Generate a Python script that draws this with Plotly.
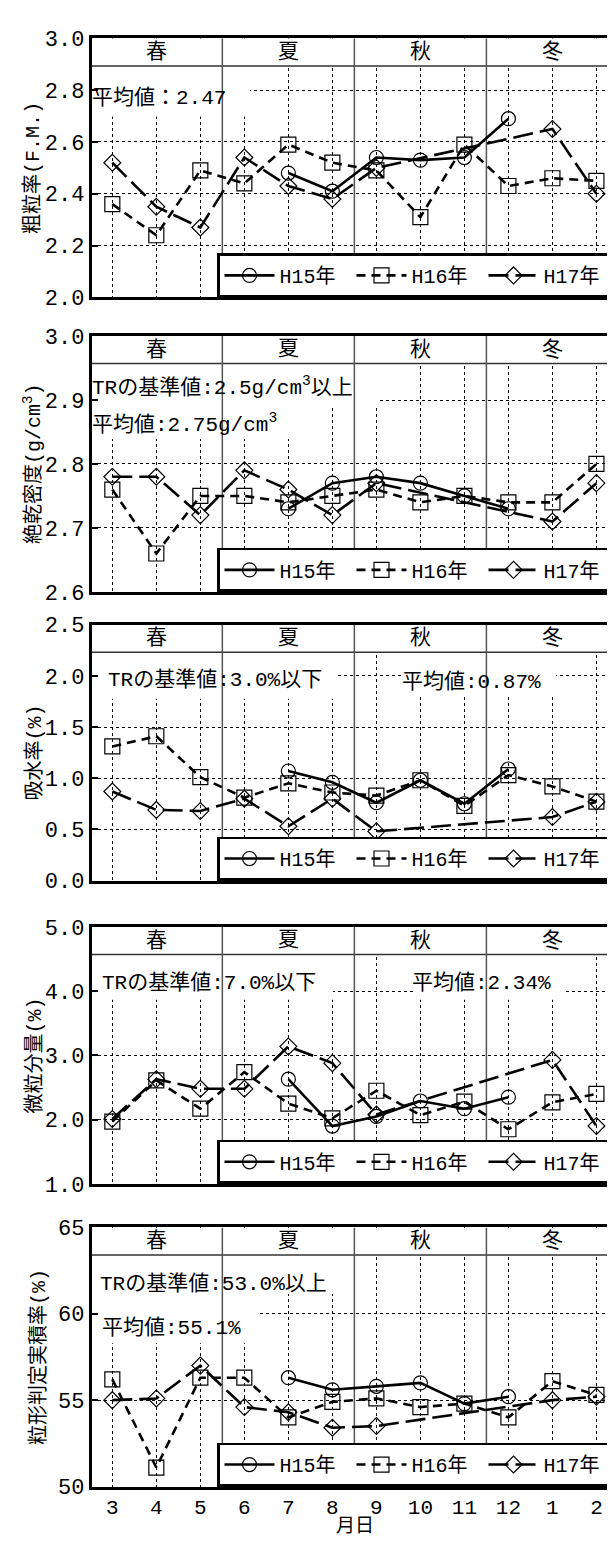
import plotly.graph_objects as go

# ---------------- data ----------------
months = ["3", "4", "5", "6", "7", "8", "9", "10", "11", "12", "1", "2"]
seasons = ["春", "夏", "秋", "冬"]
season_idx = [1, 4, 7, 10]          # category index of each season label
season_breaks = [2.5, 5.5, 8.5]     # category boundaries between seasons
series_names = ["H15年", "H16年", "H17年"]

# 粗粒率 (F.M.)
fm_h15 = [None, None, None, None, 2.48, 2.41, 2.54, 2.53, 2.54, 2.69, None, None]
fm_h16 = [2.36, 2.24, 2.49, 2.44, 2.59, 2.52, 2.49, 2.31, 2.59, 2.43, 2.46, 2.45]
fm_h17 = [2.52, 2.35, 2.27, 2.54, 2.43, 2.38, 2.50, None, None, None, 2.65, 2.40]

# 絶乾密度 (g/cm3)
dens_h15 = [None, None, None, None, 2.73, 2.77, 2.78, 2.77, 2.75, 2.73, None, None]
dens_h16 = [2.76, 2.66, 2.75, 2.75, 2.74, 2.75, 2.76, 2.74, 2.75, 2.74, 2.74, 2.80]
dens_h17 = [2.78, 2.78, 2.72, 2.79, 2.76, 2.72, 2.77, None, None, None, 2.71, 2.77]

# 吸水率 (%)
abs_h15 = [None, None, None, None, 1.07, 0.96, 0.76, 0.98, 0.75, 1.09, None, None]
abs_h16 = [1.31, 1.41, 1.01, 0.81, 0.95, 0.86, 0.83, 0.98, 0.73, 1.03, 0.92, 0.77]
abs_h17 = [0.87, 0.69, 0.68, 0.80, 0.53, 0.80, 0.48, None, None, None, 0.62, 0.77]

# 微粒分量 (%)
fine_h15 = [None, None, None, None, 2.63, 1.90, 2.05, 2.29, 2.17, 2.35, None, None]
fine_h16 = [1.97, 2.61, 2.17, 2.74, 2.25, 2.02, 2.45, 2.07, 2.28, 1.85, 2.27, 2.40]
fine_h17 = [2.01, 2.63, 2.48, 2.48, 3.14, 2.88, 2.08, None, None, None, 2.93, 1.90]

# 粒形判定実積率 (%)
shp_h15 = [None, None, None, None, 56.3, 55.6, 55.8, 56.0, 54.8, 55.2, None, None]
shp_h16 = [56.2, 51.1, 56.3, 56.3, 54.0, 54.9, 55.1, 54.6, 54.8, 54.0, 56.1, 55.3]
shp_h17 = [55.0, 55.1, 57.0, 54.6, 54.3, 53.4, 53.5, None, None, None, 55.0, 55.2]

y_titles = ["粗粒率(F.M.)", "絶乾密度(g/cm<sup>3</sup>)", "吸水率(%)", "微粒分量(%)", "粒形判定実積率(%)"]
fm_ticks = [2.0, 2.2, 2.4, 2.6, 2.8, 3.0]
dens_ticks = [2.6, 2.7, 2.8, 2.9, 3.0]
abs_ticks = [0.0, 0.5, 1.0, 1.5, 2.0, 2.5]
fine_ticks = [1.0, 2.0, 3.0, 4.0, 5.0]
shp_ticks = [50, 55, 60, 65]
tick_fmt = ["{:.1f}", "{:.1f}", "{:.1f}", "{:.1f}", "{:d}"]

notes = [
    ["平均値：2.47"],
    ["TRの基準値:2.5g/cm<sup>3</sup>以上", "平均値:2.75g/cm<sup>3</sup>"],
    ["TRの基準値:3.0%以下", "平均値:0.87%"],
    ["TRの基準値:7.0%以下", "平均値:2.34%"],
    ["TRの基準値:53.0%以上", "平均値:55.1%"],
]
x_title = "月日"

panel_series = [
    (fm_h15, fm_h16, fm_h17),
    (dens_h15, dens_h16, dens_h17),
    (abs_h15, abs_h16, abs_h17),
    (fine_h15, fine_h16, fine_h17),
    (shp_h15, shp_h16, shp_h17),
]
panel_ticks = [fm_ticks, dens_ticks, abs_ticks, fine_ticks, shp_ticks]

# ---------------- layout constants (pixels) ----------------
W, H = 615, 1544
X0, X1 = 83.5, 610.0
XR = [-0.473, 11.49]
panel_px = [(20.7, 284.0), (323.3, 583.3), (616.7, 876.7), (924.0, 1185.0), (1229.3, 1492.7)]
BAND = 28.0
note_pos = [
    [(82, 81)],
    [(82, 375), (82, 412)],
    [(98, 673), (392, 675)],
    [(92, 981), (402, 981)],
    [(90, 1287), (92, 1332)],
]
note_boxes = [
    [(84, 242, 48, 100)],
    [(84, 372, 351, 395), (84, 300, 395, 428)],
    [(84, 329, 643, 692), (394, 548, 643, 690)],
    [(84, 325, 952, 998), (406, 556, 952, 998)],
    [(84, 335, 1257, 1297), (84, 252, 1297, 1347)],
]
title_x = [25, 25, 27, 27, 31]

FONT = "Liberation Mono, Noto Sans CJK JP, monospace"
FS = 20
FS_TICK = 21
FS_NOTE = 21
FS_SEASON = 21

styles = [
    dict(dash="solid", symbol="circle-open", size=14),
    dict(dash="9px,6px", symbol="square-open", size=15),
    dict(dash="20px,7px", symbol="diamond-open", size=13),
]


def py2paper(y):
    return 1 - y / H


def px2data(x):
    return XR[0] + (x - X0) / (X1 - X0) * (XR[1] - XR[0])


fig = go.Figure()
shapes = []
annotations = []
layout = dict(
    width=W, height=H,
    margin=dict(l=0, r=0, t=0, b=0),
    paper_bgcolor="white", plot_bgcolor="white",
    font=dict(family=FONT, size=FS, color="black"),
)

for i in range(5):
    sfx = "" if i == 0 else str(i + 1)
    xa, ya = "x" + sfx, "y" + sfx
    leg = "legend" + sfx
    top, bot = panel_px[i]
    hpx = bot - top
    ticks = panel_ticks[i]
    ymin, ymax = ticks[0], ticks[-1]

    def py2data(y, top=top, hpx=hpx, ymin=ymin, ymax=ymax):
        return ymax - (y - top) / hpx * (ymax - ymin)

    for k in range(3):
        st = styles[k]
        fig.add_trace(go.Scatter(
            x=months, y=panel_series[i][k], name=series_names[k],
            mode="lines+markers", connectgaps=True,
            xaxis=xa, yaxis=ya, legend=leg,
            line=dict(color="black", width=2.6, dash=st["dash"]),
            marker=dict(symbol=st["symbol"], size=st["size"], color="black",
                        line=dict(width=1.2, color="black")),
        ))
    layout["xaxis" + sfx] = dict(
        domain=[X0 / W, X1 / W], anchor=ya, type="category",
        range=XR,
        showgrid=True, gridcolor="black", gridwidth=1, griddash="dot",
        showline=True, linecolor="black", linewidth=2.5, mirror=True,
        ticks="", showticklabels=(i == 4),
        tickfont=dict(family=FONT, size=FS_TICK),
        zeroline=False,
    )
    layout["yaxis" + sfx] = dict(
        domain=[py2paper(bot), py2paper(top)], anchor=xa,
        range=[ymin, ymax],
        tickvals=ticks, ticktext=[tick_fmt[i].format(t) for t in ticks],
        showgrid=True, gridcolor="black", gridwidth=1, griddash="dot",
        showline=True, linecolor="black", linewidth=2.5, mirror="ticks",
        ticks="inside", ticklen=7, tickwidth=2, tickcolor="black",
        tickfont=dict(family=FONT, size=22),
        zeroline=False,
    )
    layout[leg] = dict(
        x=X1 / W, xanchor="right", y=py2paper(bot), yanchor="bottom",
        orientation="h", bgcolor="white", bordercolor="black", borderwidth=2.5,
        font=dict(family=FONT, size=FS), entrywidth=67, entrywidthmode="pixels",
        itemwidth=50,
    )
    # white boxes behind the notes
    for (bx0, bx1, by0, by1) in note_boxes[i]:
        shapes.append(dict(type="rect", xref=xa, yref=ya,
                           x0=px2data(bx0), x1=px2data(bx1),
                           y0=py2data(by1), y1=py2data(by0),
                           fillcolor="white", line=dict(width=0), layer="between"))
    # season band
    yb = py2data(top + BAND)
    shapes.append(dict(type="rect", xref=xa, yref=ya,
                       x0=XR[0], x1=XR[1], y0=yb, y1=ymax, fillcolor="white",
                       line=dict(width=0), layer="between"))
    shapes.append(dict(type="line", xref=xa, yref=ya,
                       x0=XR[0], x1=XR[1], y0=yb, y1=yb,
                       line=dict(color="#333333", width=1.5), layer="between"))
    for d in season_breaks:
        shapes.append(dict(type="line", xref=xa, yref=ya,
                           x0=d, x1=d, y0=ymin, y1=ymax,
                           line=dict(color="#555555", width=1.5), layer="between"))
    for s, c in zip(seasons, season_idx):
        annotations.append(dict(x=c, y=(yb + ymax) / 2, xref=xa, yref=ya,
                                text=s, showarrow=False, font=dict(size=FS_SEASON),
                                xanchor="center", yanchor="middle"))
    # y title
    annotations.append(dict(x=title_x[i] / W, y=py2paper((top + bot) / 2),
                            xref="paper", yref="paper",
                            text=y_titles[i], textangle=-90, showarrow=False,
                            font=dict(size=FS), xanchor="center", yanchor="middle"))
    # notes
    for txt, (nx, ny) in zip(notes[i], note_pos[i]):
        annotations.append(dict(x=nx / W, y=py2paper(ny), xref="paper", yref="paper",
                                text=txt, showarrow=False, font=dict(size=FS_NOTE),
                                xanchor="left", yanchor="middle"))

annotations.append(dict(x=347 / W, y=py2paper(1534), xref="paper", yref="paper",
                        text=x_title, showarrow=False, font=dict(size=19),
                        xanchor="center", yanchor="middle"))

layout["shapes"] = shapes
layout["annotations"] = annotations
fig.update_layout(**layout)
fig.write_html("out.html")
